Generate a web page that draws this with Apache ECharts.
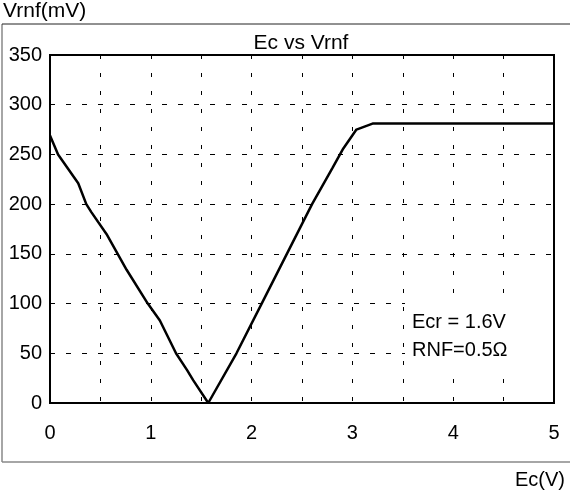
<!DOCTYPE html>
<html>
<head>
<meta charset="utf-8">
<script src="https://cdn.jsdelivr.net/npm/echarts@6/dist/echarts.min.js"></script>
<style>
  html, body { margin: 0; padding: 0; background: #fff; }
  #main { width: 570px; height: 493px; }
</style>
</head>
<body>
<div id="main"></div>
<script>
// Ec (V) against Vrnf (mV)
const ecValues = [0, 0.08, 0.28, 0.36, 0.41, 0.56, 0.76, 0.97, 1.09, 1.25, 1.36, 1.42, 1.57, 1.85, 2.1, 2.37, 2.6, 2.8, 2.91, 3.04, 3.2, 5]
const vrnfValues = [269, 250, 221, 200, 192, 170, 134, 100, 83, 50, 33, 23, 0, 50, 100, 154, 200, 236, 256, 275, 281, 281]
const xTicks = [0, 1, 2, 3, 4, 5]
const yTicks = [0, 50, 100, 150, 200, 250, 300, 350]
const notes = ['Ecr = 1.6V', 'RNF=0.5\u03a9']

const font = 'Liberation Sans'
const myChart = echarts.init(document.getElementById('main'))
const hDash = { color: '#000', width: 1, type: [5, 11] }
const vDash = { color: '#000', width: 1, type: [4, 14] }

const option = {
  animation: false,
  textStyle: { fontFamily: font },
  grid: {
    left: 50,
    right: 16,
    top: 55,
    bottom: 90,
    show: true,
    borderColor: '#000',
    borderWidth: 2
  },
  xAxis: {
    type: 'value',
    min: xTicks[0],
    max: xTicks[xTicks.length - 1],
    interval: 1,
    axisLine: { show: false },
    axisTick: { show: false },
    axisLabel: { color: '#000', fontSize: 20, fontFamily: font, margin: 20 },
    splitLine: { show: true, lineStyle: vDash },
    minorTick: { show: false, splitNumber: 2 },
    minorSplitLine: { show: true, lineStyle: vDash }
  },
  yAxis: {
    type: 'value',
    min: yTicks[0],
    max: yTicks[yTicks.length - 1],
    interval: 50,
    axisLine: { show: false },
    axisTick: { show: false },
    axisLabel: { color: '#000', fontSize: 20, fontFamily: font, margin: 8 },
    splitLine: { show: true, lineStyle: hDash }
  },
  series: [
    {
      type: 'line',
      data: ecValues.map((x, i) => [x, vrnfValues[i]]),
      showSymbol: false,
      lineStyle: { color: '#000', width: 2.5 },
      z: 3
    }
  ],
  graphic: [
    // outer frame
    { type: 'line', shape: { x1: 2, y1: 24, x2: 2, y2: 462 }, style: { stroke: '#888', lineWidth: 1.5 }, silent: true },
    { type: 'line', shape: { x1: 2, y1: 462, x2: 570, y2: 462 }, style: { stroke: '#888', lineWidth: 1.5 }, silent: true },
    { type: 'line', shape: { x1: 2, y1: 24, x2: 570, y2: 24 }, style: { stroke: '#222', lineWidth: 1 }, silent: true },
    { type: 'text', left: 3, top: 1, style: { text: 'Vrnf(mV)', fill: '#000', font: '21px "Liberation Sans"' } },
    { type: 'text', right: 5, top: 470, style: { text: 'Ec(V)', fill: '#000', font: '20px "Liberation Sans"' } },
    { type: 'text', x: 301, y: 43, style: { text: 'Ec vs Vrnf', fill: '#000', font: '21px "Liberation Sans"', align: 'center', verticalAlign: 'middle' } },
    // white box behind the note
    { type: 'rect', shape: { x: 405, y: 300, width: 146, height: 66 }, style: { fill: '#fff' }, z: 10, silent: true },
    { type: 'text', x: 412, y: 322, z: 11, style: { text: notes[0], fill: '#000', font: '20px "Liberation Sans"', verticalAlign: 'middle' } },
    { type: 'text', x: 412, y: 350, z: 11, style: { text: notes[1], fill: '#000', font: '20px "Liberation Sans"', verticalAlign: 'middle' } }
  ]
}
myChart.setOption(option)
</script>
</body>
</html>
